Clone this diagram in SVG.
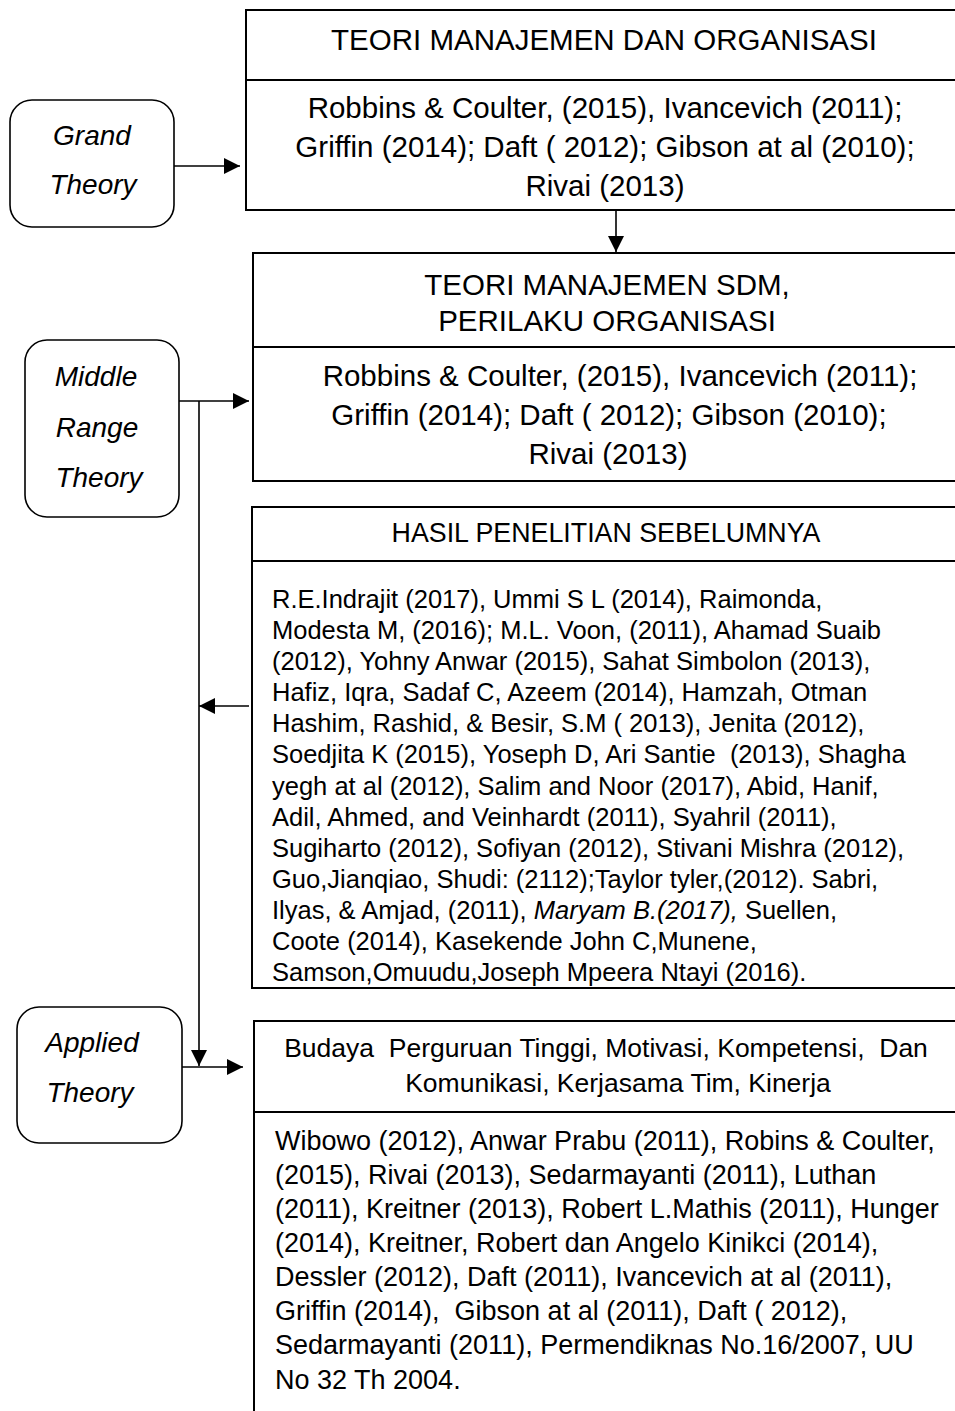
<svg xmlns="http://www.w3.org/2000/svg" width="955" height="1411" viewBox="0 0 955 1411">
<style>
text{font-family:"Liberation Sans",Arial,sans-serif;fill:#000;white-space:pre}
.lbl{font-size:28px;font-style:italic;text-anchor:middle}
.t1{font-size:29.5px;text-anchor:middle}
.t2{font-size:26.8px;text-anchor:middle}
.t3{font-size:26.5px;text-anchor:middle}
.b1{font-size:25.5px}
.b2{font-size:27px}
.box{fill:#fff;stroke:#000;stroke-width:2}
.rbox{fill:#fff;stroke:#000;stroke-width:1.6}
.div{stroke:#000;stroke-width:2}
.con{fill:none;stroke:#000;stroke-width:1.6}
</style>
<defs>
<marker id="ah" markerWidth="16" markerHeight="16" refX="16" refY="8" orient="auto" markerUnits="userSpaceOnUse">
<path d="M0,0 L16,8 L0,16 Z" fill="#000"/>
</marker>
</defs>
<g id="grand">
<rect class="rbox" x="10" y="100" width="164" height="127" rx="22"/>
<text class="lbl" x="92" y="145">Grand</text>
<text class="lbl" x="93" y="194">Theory</text>
</g>
<g id="middle">
<rect class="rbox" x="25" y="340" width="154" height="177" rx="22"/>
<text class="lbl" x="96" y="386">Middle</text>
<text class="lbl" x="97" y="437">Range</text>
<text class="lbl" x="99" y="487">Theory</text>
</g>
<g id="applied">
<rect class="rbox" x="17" y="1007" width="165" height="136" rx="22"/>
<text class="lbl" x="92" y="1052">Applied</text>
<text class="lbl" x="90" y="1102">Theory</text>
</g>
<g id="teori-manajemen">
<rect class="box" x="246" y="10" width="720" height="200"/>
<line class="div" x1="246" y1="80" x2="960" y2="80"/>
<text class="t1" x="604" y="50">TEORI MANAJEMEN DAN ORGANISASI</text>
<text class="t1" x="605" y="118">Robbins &amp; Coulter, (2015), Ivancevich (2011);</text>
<text class="t1" x="605" y="157">Griffin (2014); Daft ( 2012); Gibson at al (2010);</text>
<text class="t1" x="605" y="196">Rivai (2013)</text>
</g>
<g id="teori-sdm">
<rect class="box" x="253" y="253" width="720" height="228"/>
<line class="div" x1="253" y1="347" x2="960" y2="347"/>
<text class="t1" x="607" y="295">TEORI MANAJEMEN SDM,</text>
<text class="t1" x="607" y="331">PERILAKU ORGANISASI</text>
<text class="t1" x="620" y="386">Robbins &amp; Coulter, (2015), Ivancevich (2011);</text>
<text class="t1" x="609" y="425">Griffin (2014); Daft ( 2012); Gibson (2010);</text>
<text class="t1" x="608" y="464">Rivai (2013)</text>
</g>
<g id="hasil">
<rect class="box" x="252" y="507" width="720" height="481"/>
<line class="div" x1="252" y1="561" x2="960" y2="561"/>
<text class="t2" x="606" y="542">HASIL PENELITIAN SEBELUMNYA</text>
<text class="b1" x="272" y="608">R.E.Indrajit (2017), Ummi S L (2014), Raimonda,</text>
<text class="b1" x="272" y="639">Modesta M, (2016); M.L. Voon, (2011), Ahamad Suaib</text>
<text class="b1" x="272" y="670">(2012), Yohny Anwar (2015), Sahat Simbolon (2013),</text>
<text class="b1" x="272" y="701">Hafiz, Iqra, Sadaf C, Azeem (2014), Hamzah, Otman</text>
<text class="b1" x="272" y="732">Hashim, Rashid, &amp; Besir, S.M ( 2013), Jenita (2012),</text>
<text class="b1" x="272" y="763">Soedjita K (2015), Yoseph D, Ari Santie  (2013), Shagha</text>
<text class="b1" x="272" y="795">yegh at al (2012), Salim and Noor (2017), Abid, Hanif,</text>
<text class="b1" x="272" y="826">Adil, Ahmed, and Veinhardt (2011), Syahril (2011),</text>
<text class="b1" x="272" y="857">Sugiharto (2012), Sofiyan (2012), Stivani Mishra (2012),</text>
<text class="b1" x="272" y="888">Guo,Jianqiao, Shudi: (2112);Taylor tyler,(2012). Sabri,</text>
<text class="b1" x="272" y="919">Ilyas, &amp; Amjad, (2011), <tspan font-style="italic">Maryam B.(2017),</tspan> Suellen,</text>
<text class="b1" x="272" y="950">Coote (2014), Kasekende John C,Munene,</text>
<text class="b1" x="272" y="981">Samson,Omuudu,Joseph Mpeera Ntayi (2016).</text>
</g>
<g id="budaya">
<rect class="box" x="254" y="1021" width="720" height="420"/>
<line class="div" x1="254" y1="1112" x2="960" y2="1112"/>
<text class="t3" x="606" y="1057">Budaya  Perguruan Tinggi, Motivasi, Kompetensi,  Dan</text>
<text class="t3" x="618" y="1092">Komunikasi, Kerjasama Tim, Kinerja</text>
<text class="b2" x="275" y="1150">Wibowo (2012), Anwar Prabu (2011), Robins &amp; Coulter,</text>
<text class="b2" x="275" y="1184">(2015), Rivai (2013), Sedarmayanti (2011), Luthan</text>
<text class="b2" x="275" y="1218">(2011), Kreitner (2013), Robert L.Mathis (2011), Hunger</text>
<text class="b2" x="275" y="1252">(2014), Kreitner, Robert dan Angelo Kinikci (2014),</text>
<text class="b2" x="275" y="1286">Dessler (2012), Daft (2011), Ivancevich at al (2011),</text>
<text class="b2" x="275" y="1320">Griffin (2014),  Gibson at al (2011), Daft ( 2012),</text>
<text class="b2" x="275" y="1354">Sedarmayanti (2011), Permendiknas No.16/2007, UU</text>
<text class="b2" x="275" y="1389">No 32 Th 2004.</text>
</g>
<g id="connectors">
<line class="con" x1="174" y1="166" x2="240" y2="166" marker-end="url(#ah)"/>
<line class="con" x1="616" y1="210" x2="616" y2="252" marker-end="url(#ah)"/>
<line class="con" x1="179" y1="401" x2="249" y2="401" marker-end="url(#ah)"/>
<line class="con" x1="199" y1="401" x2="199" y2="1066" marker-end="url(#ah)"/>
<line class="con" x1="249" y1="706" x2="199" y2="706" marker-end="url(#ah)"/>
<line class="con" x1="182" y1="1067" x2="243" y2="1067" marker-end="url(#ah)"/>
</g>
</svg>
